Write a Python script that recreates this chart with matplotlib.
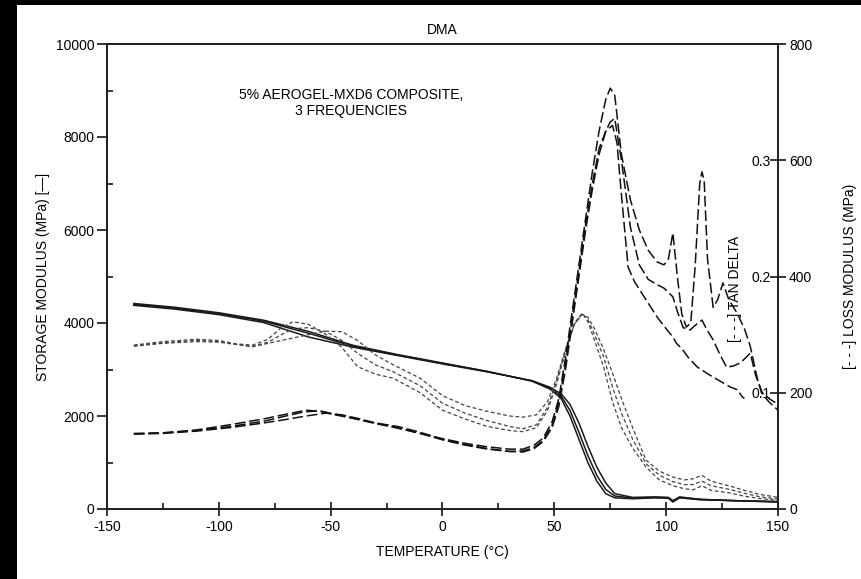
import matplotlib.pyplot as plt
from matplotlib.patches import Rectangle
from matplotlib.ticker import MultipleLocator

plt.rcParams['font.family'] = ['Liberation Sans', 'DejaVu Sans']
plt.rcParams['axes.unicode_minus'] = False

# storage modulus (MPa), 3 frequencies
T_store = [-138, -120, -100, -80, -60, -40, -20, 0, 20, 40, 48, 53, 57, 61, 65, 69, 73, 77, 85, 95, 101, 103, 106, 115, 130, 150]
store_1 = [4420, 4340, 4220, 4060, 3820, 3520, 3320, 3140, 2960, 2750, 2580, 2380, 2000, 1500, 1000, 600, 330, 240, 220, 240, 230, 150, 240, 200, 180, 150]
store_2 = [4380, 4300, 4180, 4010, 3700, 3480, 3300, 3120, 2950, 2760, 2620, 2480, 2250, 1850, 1350, 900, 560, 330, 250, 260, 250, 180, 260, 210, 180, 160]
store_3 = [4400, 4320, 4200, 4040, 3780, 3500, 3310, 3130, 2955, 2755, 2600, 2430, 2120, 1650, 1150, 720, 420, 280, 235, 250, 240, 165, 250, 205, 180, 155]

# loss modulus (MPa)
T_loss = [-138, -125, -110, -100, -92, -85, -78, -72, -67, -60, -52, -45, -38, -30, -22, -10, 0, 10, 20, 30,
          36, 42, 47, 51, 55, 59, 62.5, 65, 68, 72, 76, 80, 85, 91, 97, 103, 108, 112, 116, 120, 128, 135, 142, 150]
loss_1 = [282, 288, 292, 290, 284, 282, 292, 312, 322, 318, 300, 278, 245, 232, 225, 200, 170, 155, 142, 135,
          133, 140, 170, 215, 270, 320, 337, 322, 290, 245, 185, 140, 105, 72, 50, 40, 35, 33, 40, 32, 28, 22, 18, 15]
loss_2 = [280, 285, 288, 287, 283, 279, 285, 290, 294, 300, 306, 305, 290, 265, 248, 225, 195, 178, 168, 160,
          158, 162, 185, 225, 275, 318, 335, 330, 310, 275, 234, 190, 140, 84, 65, 55, 50, 52, 58, 48, 40, 32, 25, 20]
loss_3 = [281, 286, 290, 288, 283, 280, 287, 300, 310, 312, 305, 290, 268, 248, 236, 212, 182, 165, 152, 142,
          138, 145, 175, 220, 272, 318, 336, 326, 300, 262, 210, 165, 120, 78, 58, 47, 42, 42, 48, 40, 34, 27, 21, 17]

# tan delta
T_tan_a = [-138, -125, -110, -95, -80, -70, -61, -55, -48, -40, -30, -20, -10, 0, 10, 20, 30, 36, 41, 45,
           49, 52, 55, 58, 61, 64, 67, 70, 73, 75, 77, 80, 84, 88, 92, 96, 99, 101, 103, 105,
           107, 109, 111, 113, 115, 116, 117, 118.5, 121, 123, 125.4, 128, 131.7, 135, 137.6, 140.6, 142.6, 146, 150]
tan_a = [.0645, .0655, .068, .0725, .0775, .0815, .085, .084, .081, .078, .074, .070, .065, .0605, .0565, .0535, .0515, .0515, .055, .061,
         .075, .095, .13, .17, .21, .25, .29, .325, .3525, .362, .356, .305, .266, .24, .2225, .2125, .21, .215, .2375, .20,
         .1675, .1565, .16, .21, .28, .29, .2825, .215, .1735, .18, .1945, .18, .1685, .155, .14, .1135, .10, .092, .085]

T_tan_b = [-138, -125, -110, -95, -80, -70, -61, -52, -45, -38, -30, -20, -10, 0, 10, 20, 30, 36, 41, 45,
           49, 52, 55, 58, 61, 64, 67, 70, 73, 75, 77, 80, 84, 88, 92, 96, 99, 103, 105, 107.6,
           110.7, 113, 116, 118, 121, 124, 127, 130, 133, 135.5, 137.6, 140, 143, 146, 150]
tan_b = [.0645, .065, .067, .070, .074, .077, .080, .0825, .081, .078, .074, .071, .066, .060, .0555, .052, .0495, .049, .052, .058,
         .070, .088, .12, .16, .20, .24, .275, .305, .325, .333, .336, .30, .2425, .21, .1975, .193, .19, .1825, .17, .156,
         .154, .158, .1625, .155, .1455, .133, .122, .123, .1255, .13, .134, .115, .10, .095, .09]

T_tan_c = [-138, -125, -110, -95, -80, -70, -62, -55, -48, -40, -30, -20, -10, 0, 10, 20, 30, 36, 41, 45,
           49, 52, 55, 58, 61, 64, 67, 70, 73, 76, 78, 80, 83, 86, 91, 96, 100, 103, 104.6, 107,
           110, 114, 118, 121, 125, 128.6, 132, 134, 135]
tan_c = [.065, .0655, .0675, .071, .0755, .080, .0835, .0845, .0815, .078, .0735, .0695, .065, .0595, .055, .0515, .0495, .050, .053, .059,
         .072, .092, .125, .165, .205, .245, .28, .31, .325, .33, .315, .27, .208, .195, .18, .165, .155, .148, .1425, .138,
         .13, .122, .117, .1135, .109, .105, .1025, .0965, .095]

fig = plt.figure(figsize=(8.62, 5.79), dpi=100, facecolor='black')
fig.add_artist(Rectangle((17 / 862, 0), 1, 1 - 5 / 579, transform=fig.transFigure,
                         facecolor='white', edgecolor='none', zorder=-10))

ax = fig.add_axes([107 / 862, 70 / 579, 671 / 862, 465 / 579])
ax2 = ax.twinx()
ax3 = ax.twinx()

for s in (store_1, store_2, store_3):
    ax.plot(T_store, s, color='#1a1a1a', lw=1.1)

for l in (loss_1, loss_2, loss_3):
    ax2.plot(T_loss, l, color='#444444', lw=0.9, dashes=(3, 2))

for t, v in ((T_tan_a, tan_a), (T_tan_b, tan_b), (T_tan_c, tan_c)):
    ax3.plot(t, v, color='#111111', lw=1.1, dashes=(7, 2.5))

ax.set_xlim(-150, 150)
ax.set_ylim(0, 10000)
ax2.set_ylim(0, 800)
ax3.set_ylim(0, 0.4)

for a in (ax, ax2, ax3):
    for sp in a.spines.values():
        sp.set_linewidth(1.3)
        sp.set_color('#222222')

ax.set_xticks([-150, -100, -50, 0, 50, 100, 150])
ax.xaxis.set_minor_locator(MultipleLocator(25))
ax.set_yticks(range(0, 10001, 2000))
ax.yaxis.set_minor_locator(MultipleLocator(1000))
ax.tick_params(axis='x', which='major', direction='inout', length=10, width=1.1, labelsize=10, pad=3)
ax.tick_params(axis='x', which='minor', direction='in', length=4, width=1.1)
ax.tick_params(axis='y', which='major', direction='out', length=7, width=1.1, labelsize=10, pad=2)
ax.tick_params(axis='y', which='minor', direction='in', length=4, width=1.1)

ax2.set_yticks(range(0, 801, 200))
ax2.tick_params(axis='y', direction='inout', length=12, width=1.1, labelsize=10, pad=2)

ax3.spines['right'].set_visible(False)
ax3.set_yticks([0.1, 0.2, 0.3], labels=['0.1', '0.2', '0.3'])
ax3.tick_params(axis='y', length=0, labelsize=10, pad=-5)
for lab in ax3.get_yticklabels():
    lab.set_horizontalalignment('right')

ax.set_title('DMA', fontsize=10, pad=7)
ax.set_xlabel('TEMPERATURE (°C)', fontsize=10, labelpad=8)
ax.set_ylabel('STORAGE MODULUS (MPa) [—]', fontsize=10, labelpad=4)
ax2.set_ylabel('[- - -] LOSS MODULUS (MPa)', fontsize=10, labelpad=22)

fig.text(351 / 862, 1 - 103 / 579, '5% AEROGEL-MXD6 COMPOSITE,\n3 FREQUENCIES',
         fontsize=10, ha='center', va='center', linespacing=1.1)
fig.text(735 / 862, 1 - 289 / 579, '[- - -] TAN DELTA', rotation=90, fontsize=10,
         ha='center', va='center')

fig.savefig('out.png', dpi=100, facecolor=fig.get_facecolor())
